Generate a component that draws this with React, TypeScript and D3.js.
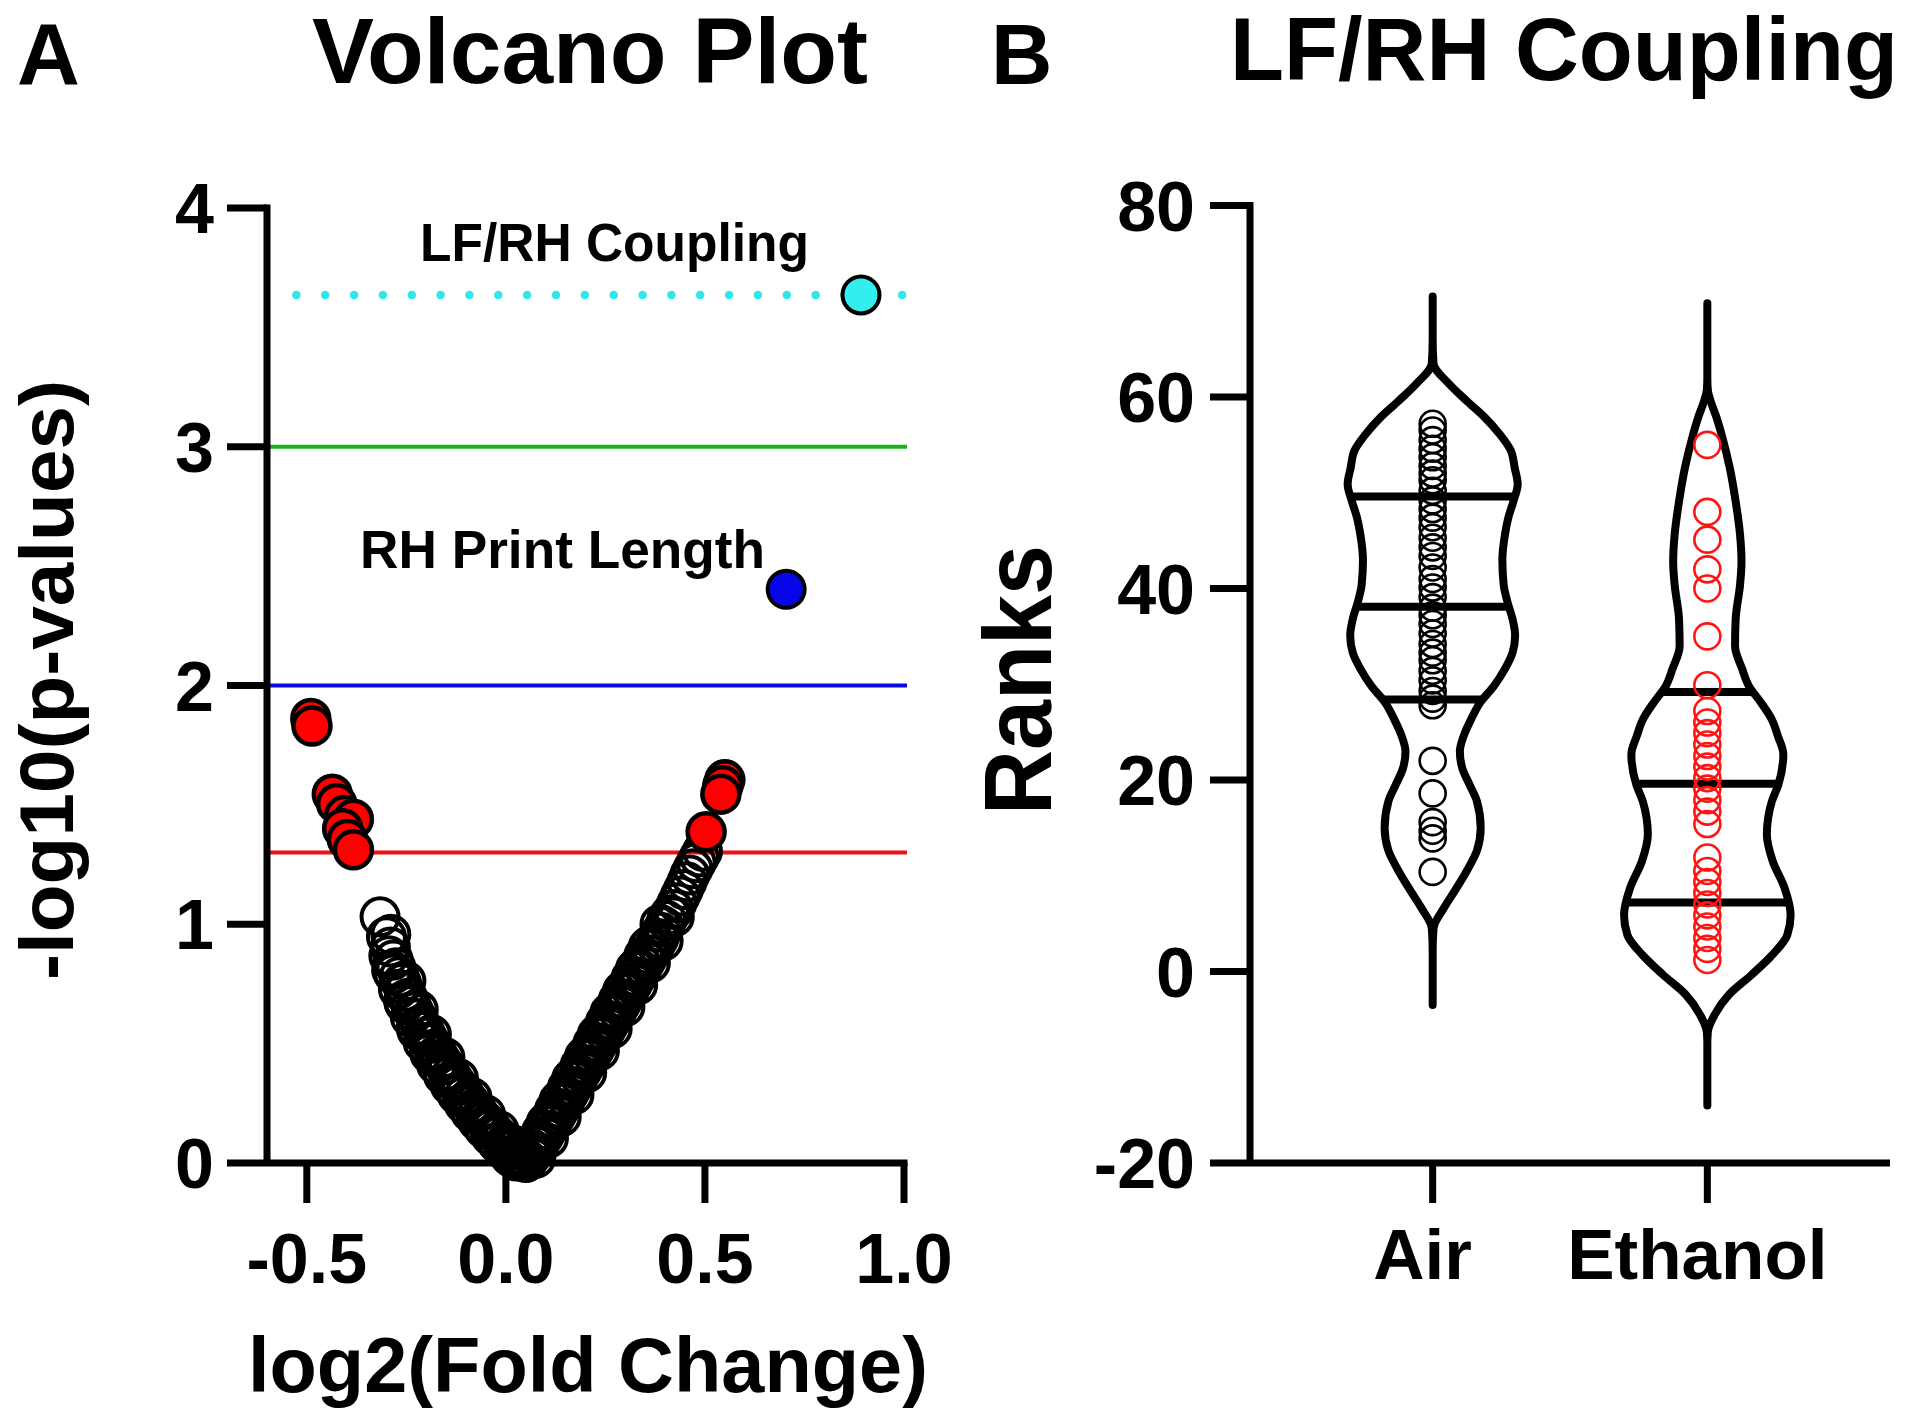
import React, { useEffect } from 'react';
import * as d3 from 'd3';

const FONT = '"Liberation Sans", Arial, Helvetica, sans-serif';

// ---------------- Panel A : volcano plot data ----------------
const volcanoXTicks = [-0.5, 0.0, 0.5, 1.0];
const volcanoYTicks = [0, 1, 2, 3, 4];
const volcanoXDomain = [-0.6, 1.0];
const volcanoYDomain = [0, 4];

// non-significant variables (log2FC, -log10 p) - left arm
const leftArm: [number, number][] = [
  [-0.316, 1.031], [-0.300, 0.948], [-0.290, 0.905], [-0.294, 0.868], [-0.283, 0.850],
  [-0.276, 0.818], [-0.282, 0.792], [-0.268, 0.780], [-0.262, 0.752], [-0.270, 0.728],
  [-0.254, 0.718], [-0.246, 0.690], [-0.255, 0.668], [-0.238, 0.660], [-0.231, 0.632],
  [-0.240, 0.610], [-0.222, 0.604], [-0.214, 0.578], [-0.224, 0.556], [-0.205, 0.552],
  [-0.198, 0.528], [-0.208, 0.506], [-0.189, 0.502], [-0.181, 0.478], [-0.191, 0.458],
  [-0.172, 0.455], [-0.164, 0.432], [-0.174, 0.412], [-0.155, 0.410], [-0.147, 0.388],
  [-0.157, 0.368], [-0.138, 0.366], [-0.130, 0.344], [-0.140, 0.326], [-0.121, 0.324],
  [-0.113, 0.303], [-0.122, 0.286], [-0.104, 0.284], [-0.096, 0.264], [-0.105, 0.248],
  [-0.087, 0.246], [-0.079, 0.227], [-0.088, 0.211], [-0.070, 0.210], [-0.062, 0.192],
  [-0.071, 0.176], [-0.053, 0.176], [-0.045, 0.158], [-0.054, 0.143], [-0.036, 0.143],
  [-0.028, 0.126], [-0.037, 0.112], [-0.019, 0.112], [-0.011, 0.096], [-0.020, 0.082],
  [-0.002, 0.082], [0.006, 0.066], [-0.003, 0.052], [0.014, 0.054], [0.022, 0.038],
  [0.012, 0.026], [0.030, 0.028], [0.036, 0.014], [0.026, 0.008], [0.044, 0.006],
  [0.050, 0.002],
  [-0.289, 0.958], [-0.287, 0.808], [-0.251, 0.762], [-0.257, 0.680], [-0.220, 0.642],
  [-0.225, 0.568], [-0.187, 0.538], [-0.192, 0.468], [-0.153, 0.442], [-0.158, 0.378],
  [-0.119, 0.354], [-0.124, 0.293], [-0.085, 0.274], [-0.090, 0.217], [-0.051, 0.202],
  [-0.056, 0.148], [-0.017, 0.136], [-0.022, 0.086], [0.017, 0.076], [0.011, 0.028],
  [0.047, 0.024],
];

// non-significant variables - right arm
const rightArm: [number, number][] = [
  [0.056, 0.012], [0.064, 0.030], [0.058, 0.046], [0.072, 0.052], [0.080, 0.070],
  [0.074, 0.088], [0.088, 0.094], [0.096, 0.114], [0.090, 0.132], [0.104, 0.138],
  [0.112, 0.158], [0.106, 0.176], [0.120, 0.182], [0.128, 0.204], [0.122, 0.222],
  [0.136, 0.228], [0.144, 0.250], [0.138, 0.268], [0.152, 0.274], [0.160, 0.296],
  [0.154, 0.314], [0.168, 0.320], [0.176, 0.342], [0.170, 0.360], [0.184, 0.366],
  [0.192, 0.388], [0.186, 0.406], [0.200, 0.412], [0.208, 0.434], [0.202, 0.452],
  [0.216, 0.458], [0.224, 0.480], [0.218, 0.498], [0.232, 0.504], [0.240, 0.526],
  [0.234, 0.544], [0.248, 0.550], [0.256, 0.572], [0.250, 0.590], [0.264, 0.596],
  [0.272, 0.618], [0.266, 0.636], [0.280, 0.642], [0.288, 0.664], [0.282, 0.682],
  [0.296, 0.688], [0.304, 0.710], [0.298, 0.728], [0.312, 0.734], [0.320, 0.756],
  [0.314, 0.774], [0.328, 0.780], [0.336, 0.802], [0.330, 0.820], [0.344, 0.826],
  [0.352, 0.848], [0.346, 0.866], [0.360, 0.872], [0.368, 0.894], [0.362, 0.912],
  [0.376, 0.918], [0.384, 0.940], [0.390, 0.966], [0.398, 0.990], [0.404, 1.016],
  [0.412, 1.040], [0.422, 1.062], [0.430, 1.090], [0.438, 1.118], [0.446, 1.146],
  [0.455, 1.178], [0.462, 1.206], [0.470, 1.232], [0.478, 1.258], [0.486, 1.282],
  [0.494, 1.306],
  [0.075, 0.020], [0.069, 0.080], [0.107, 0.104], [0.101, 0.168], [0.139, 0.194],
  [0.133, 0.260], [0.171, 0.286], [0.165, 0.352], [0.203, 0.378], [0.197, 0.444],
  [0.235, 0.470], [0.229, 0.536], [0.267, 0.562], [0.261, 0.628], [0.299, 0.654],
  [0.293, 0.720], [0.331, 0.746], [0.325, 0.812], [0.363, 0.838], [0.357, 0.904],
  [0.395, 0.930], [0.387, 1.000], [0.423, 1.030],
];

// significant at p < 0.05
const significant: [number, number][] = [
  [-0.490, 1.862], [-0.487, 1.830], [-0.436, 1.545], [-0.425, 1.505], [-0.405, 1.455],
  [-0.383, 1.440], [-0.410, 1.400], [-0.398, 1.355], [-0.383, 1.312],
  [0.550, 1.605], [0.545, 1.580], [0.540, 1.545], [0.503, 1.387],
];

const rhPrintLength: [number, number] = [0.704, 2.403];
const lfrhCoupling: [number, number] = [0.892, 3.636];

// threshold lines (-log10 p): p = 0.05, 0.01, 0.001
const thresholdValues = [1.301, 2, 3];
const thresholdColors = ['#f01010', '#0a0ae0', '#19b019'];
const couplingLineValue = 3.636;

// ---------------- Panel B : violin plot data ----------------
const groups = ['Air', 'Ethanol'];
const rankTicks = [-20, 0, 20, 40, 60, 80];
const rankDomain = [-20, 80];

const airRanks = [
  57.2, 56.5, 55.5, 54.6, 53.7, 52.8, 52.0, 51.3, 50.2, 49.2, 48.3, 47.4, 46.4, 45.3,
  44.3, 43.4, 42.2, 41.0, 40.1, 39.1, 38.0, 37.2, 36.3, 35.3, 34.2, 33.3, 32.5, 31.4,
  30.4, 29.3, 28.5, 27.8, 22.0, 18.6, 15.6, 14.7, 13.9, 10.4,
];
const ethanolRanks = [
  55.0, 48.0, 45.1, 42.0, 40.0, 35.0, 29.9, 27.2, 26.0, 24.9, 23.7, 22.5, 21.4, 20.2,
  19.1, 17.9, 16.7, 15.4, 11.9, 10.5, 9.35, 8.2, 7.0, 5.86, 4.7, 3.5, 2.36, 1.2,
];

const airQuartiles = [28.4, 38.1, 49.6];
const ethanolQuartiles = [7.2, 19.6, 29.2];

// kernel density outline: rank value -> relative density
const airDensityRank = [70.5, 66, 63.5, 61.4, 59.6, 57.9, 56.1, 54.4, 52.6, 50.9, 49.1, 47.4, 45.6,
  43.0, 40.4, 38.6, 36.8, 35.1, 33.3, 31.6, 29.8, 28.1, 26.3, 24.6, 23.0, 21.2, 19.5, 17.8, 15.0,
  12.6, 10.8, 8.7, 6.6, 4.5, 2.0, -3.5];
const airDensity = [0, 0, 0.01, 0.19, 0.40, 0.61, 0.79, 0.92, 0.965, 1.0, 0.95, 0.89, 0.85,
  0.82, 0.835, 0.88, 0.94, 0.97, 0.94, 0.85, 0.72, 0.56, 0.45, 0.365, 0.32, 0.35, 0.435, 0.52, 0.565,
  0.52, 0.42, 0.28, 0.13, 0.01, 0, 0];
const ethanolDensityRank = [69.8, 62, 60.7, 59.6, 57.9, 55.8, 52.6, 49.1, 45.6, 42.8, 40.4, 36.8,
  34.0, 31.6, 29.8, 28.1, 26.3, 24.6, 22.7, 19.5, 17.8, 14.3, 11.5, 8.7, 5.9, 3.8, 1.7, -0.35,
  -2.4, -4.5, -6.3, -7.5, -14.0];
const ethanolDensity = [0, 0, 0.006, 0.038, 0.106, 0.176, 0.264, 0.333, 0.385, 0.402, 0.385, 0.333,
  0.326, 0.41, 0.49, 0.63, 0.76, 0.83, 0.894, 0.835, 0.76, 0.70, 0.77, 0.91, 0.98, 0.94, 0.76, 0.52,
  0.256, 0.087, 0.006, 0, 0];

const groupRanks = [airRanks, ethanolRanks];
const groupQuartiles = [airQuartiles, ethanolQuartiles];
const groupDensityRank = [airDensityRank, ethanolDensityRank];
const groupDensity = [airDensity, ethanolDensity];
const groupPointColors = ['#000000', '#ff1414'];

export default function App() {
  useEffect(() => {
    document.body.style.margin = '0';
  }, []);

  // ----- Panel A scales -----
  const xA = d3.scaleLinear().domain(volcanoXDomain).range([267, 904]);
  const yA = d3.scaleLinear().domain(volcanoYDomain).range([1163, 208]);
  const fmtA = (v: number) => v.toFixed(1);

  // ----- Panel B scales -----
  const yB = d3.scaleLinear().domain(rankDomain).range([1163, 205.5]);
  const xB = d3.scalePoint<string>().domain(groups).range([1250, 1890]).padding(0.665);
  const wB = d3.scaleLinear().domain([0, 1]).range([0, 85]);

  const axisW = 7;
  const tickLen = 40;
  const rA = 18.5;

  const dotGap = 28.85;
  const dotStart = xA.range()[0] + dotGap + 0.5;

  return (
    <div style={{ position: 'absolute', left: 0, top: 0 }}>
      <svg width={1920} height={1420} style={{ display: 'block', background: '#fff' }} fontFamily={FONT}>
        <rect x={0} y={0} width={1920} height={1420} fill="#fff" />
        {/* ================= Panel A ================= */}
        <text x={17} y={84} fontSize={87} fontWeight="bold">A</text>
        <text x={312} y={83} fontSize={93} fontWeight="bold" textLength={556} lengthAdjust="spacingAndGlyphs">Volcano Plot</text>

        {/* threshold lines */}
        {thresholdValues.map((v, i) => (
          <line key={'th' + i} x1={xA.range()[0]} x2={xA.range()[1] + 3} y1={yA(v)} y2={yA(v)}
            stroke={thresholdColors[i]} strokeWidth={4} />
        ))}
        <line x1={dotStart} x2={xA.range()[1]} y1={yA(couplingLineValue)} y2={yA(couplingLineValue)}
          stroke="#2fe6ee" strokeWidth={8.5} strokeDasharray={`0 ${dotGap}`} strokeLinecap="round" />

        {/* non-significant points */}
        {leftArm.concat(rightArm).map((d, i) => (
          <circle key={'ns' + i} cx={xA(d[0])} cy={yA(d[1])} r={rA} fill="none" stroke="#000" strokeWidth={4} />
        ))}
        {/* significant points */}
        {significant.map((d, i) => (
          <circle key={'sg' + i} cx={xA(d[0])} cy={yA(d[1])} r={rA} fill="#ff0000" stroke="#000" strokeWidth={4.5} />
        ))}
        <circle cx={xA(rhPrintLength[0])} cy={yA(rhPrintLength[1])} r={rA} fill="#0606e8" stroke="#000" strokeWidth={4} />
        <circle cx={xA(lfrhCoupling[0])} cy={yA(lfrhCoupling[1])} r={rA} fill="#33eeee" stroke="#000" strokeWidth={4} />

        {/* annotations */}
        <text x={420} y={261} fontSize={54} fontWeight="bold" textLength={389} lengthAdjust="spacingAndGlyphs">LF/RH Coupling</text>
        <text x={360} y={568} fontSize={53} fontWeight="bold" textLength={405} lengthAdjust="spacingAndGlyphs">RH Print Length</text>

        {/* axes */}
        <line x1={xA.range()[0]} x2={xA.range()[0]} y1={yA(4) - axisW / 2} y2={yA(0)} stroke="#000" strokeWidth={axisW} />
        <line x1={xA.range()[0]} x2={xA.range()[1] + axisW / 2} y1={yA(0)} y2={yA(0)} stroke="#000" strokeWidth={axisW} />
        {volcanoYTicks.map((t) => (
          <g key={'ya' + t}>
            <line x1={xA.range()[0] - tickLen} x2={xA.range()[0]} y1={yA(t)} y2={yA(t)} stroke="#000" strokeWidth={axisW} />
            <text x={214} y={yA(t) + 25} fontSize={70} fontWeight="bold" textAnchor="end">{t}</text>
          </g>
        ))}
        {volcanoXTicks.map((t) => (
          <g key={'xa' + t}>
            <line x1={xA(t)} x2={xA(t)} y1={yA(0)} y2={yA(0) + tickLen} stroke="#000" strokeWidth={axisW} />
            <text x={xA(t)} y={1283} fontSize={70} fontWeight="bold" textAnchor="middle">{fmtA(t)}</text>
          </g>
        ))}
        <text x={588} y={1392} fontSize={78} fontWeight="bold" textAnchor="middle" textLength={680} lengthAdjust="spacingAndGlyphs">log2(Fold Change)</text>
        <text transform="translate(73,680) rotate(-90)" fontSize={76} fontWeight="bold" textAnchor="middle" textLength={600} lengthAdjust="spacingAndGlyphs">-log10(p-values)</text>

        {/* ================= Panel B ================= */}
        <text x={991} y={84} fontSize={85} fontWeight="bold">B</text>
        <text x={1230} y={80} fontSize={89} fontWeight="bold" textLength={668} lengthAdjust="spacingAndGlyphs">LF/RH Coupling</text>

        {groups.map((g, gi) => {
          const cx = xB(g) as number;
          const prof = groupDensityRank[gi].map((v, k) => [v, groupDensity[gi][k]] as [number, number]);
          const area = d3.area<[number, number]>()
            .y((d) => yB(d[0]))
            .x0((d) => cx - wB(d[1]))
            .x1((d) => cx + wB(d[1]))
            .curve(d3.curveMonotoneY);
          const dens = d3.scaleLinear().domain(groupDensityRank[gi]).range(groupDensity[gi]);
          return (
            <g key={'v' + g}>
              <path d={area(prof) || ''} fill="none" stroke="#000" strokeWidth={8} strokeLinejoin="round" />
              {groupQuartiles[gi].map((q, qi) => (
                <line key={'q' + qi} x1={cx - wB(dens(q))} x2={cx + wB(dens(q))} y1={yB(q)} y2={yB(q)}
                  stroke="#000" strokeWidth={8} />
              ))}
              {groupRanks[gi].map((r, ri) => (
                <circle key={'p' + ri} cx={cx} cy={yB(r)} r={13} fill="none" stroke={groupPointColors[gi]} strokeWidth={2.6} />
              ))}
            </g>
          );
        })}

        {/* axes */}
        <line x1={1250} x2={1250} y1={yB(80) - axisW / 2} y2={yB(-20)} stroke="#000" strokeWidth={axisW} />
        <line x1={1250} x2={1890} y1={yB(-20)} y2={yB(-20)} stroke="#000" strokeWidth={axisW} />
        {rankTicks.map((t) => (
          <g key={'yb' + t}>
            <line x1={1250 - tickLen} x2={1250} y1={yB(t)} y2={yB(t)} stroke="#000" strokeWidth={axisW} />
            <text x={1195} y={yB(t) + 25} fontSize={70} fontWeight="bold" textAnchor="end">{t}</text>
          </g>
        ))}
        {groups.map((g) => (
          <g key={'xb' + g}>
            <line x1={xB(g)} x2={xB(g)} y1={yB(-20)} y2={yB(-20) + tickLen} stroke="#000" strokeWidth={axisW} />
            <text x={(xB(g) as number) - 10} y={1279} fontSize={71} fontWeight="bold" textAnchor="middle">{g}</text>
          </g>
        ))}
        <text transform="translate(1051,680) rotate(-90)" fontSize={96} fontWeight="bold" textAnchor="middle" textLength={270} lengthAdjust="spacingAndGlyphs">Ranks</text>
      </svg>
    </div>
  );
}
